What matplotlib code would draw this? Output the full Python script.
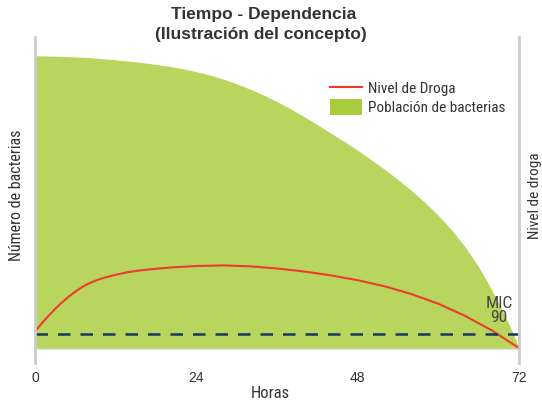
import matplotlib
matplotlib.use("Agg")
import matplotlib.pyplot as plt
from matplotlib import font_manager
from matplotlib.lines import Line2D
from matplotlib.patches import Patch

# datos (horas / escala relativa 0-100)
horas_bact = [0, 4, 8, 12, 16, 20, 22, 24, 26, 28, 30, 32, 34, 36, 38, 40, 42, 44, 46, 48, 50, 52,
              54, 56, 58, 60, 62, 64, 66, 67, 68, 69, 70, 71, 71.8, 72]
bacterias = [94.0, 93.8, 93.4, 92.7, 91.8, 90.6, 89.8, 88.9, 87.8, 86.5, 85.0, 83.3, 81.4, 79.3,
             77.0, 74.5, 71.9, 69.2, 66.5, 63.7, 60.7, 57.6, 54.3, 50.8, 47.0, 42.8, 38.1, 32.7,
             26.3, 22.6, 18.7, 14.6, 10.3, 5.6, 1.4, 0.0]

horas_droga = [0, 1, 2, 3, 4, 5, 6, 7, 8, 9, 10, 12, 14, 16, 20, 24, 28, 32, 36, 40, 44, 48,
               52, 56, 60, 64, 68, 72]
droga = [5.6, 8.2, 10.6, 12.85, 14.9, 16.75, 18.4, 19.85, 21.0, 21.9, 22.65, 23.8, 24.7, 25.3,
         26.1, 26.6, 26.8, 26.5, 25.8, 24.85, 23.6, 22.05, 20.1, 17.6, 14.5, 10.6, 5.9, 0.3]

mic90 = 4.8
xticks = [0, 24, 48, 72]


def pick_font(names):
    for n in names:
        try:
            font_manager.findfont(n, fallback_to_default=False)
            return n
        except Exception:
            pass
    return "DejaVu Sans"


narrow = pick_font(["Liberation Sans Narrow", "DejaVu Sans Condensed", "Roboto Condensed", "Liberation Sans"])
regular = pick_font(["Liberation Sans", "DejaVu Sans"])
gris = "#333333"

fig = plt.figure(figsize=(5.42, 4.03), dpi=100)
ax = fig.add_axes([35 / 542, 1 - 349 / 403, 484 / 542, 312 / 403])

ax.fill_between(horas_bact, 0, bacterias, color="#B8D65E", lw=0, zorder=1)
ax.plot(horas_droga, droga, color="#EE3B2E", lw=1.5, zorder=3, solid_capstyle="round")
ax.plot([0, 72], [mic90, mic90], color="#17375E", lw=1.8, dashes=(5, 4), zorder=3)

ax.set_xlim(0, 72)
ax.set_ylim(0, 100)
for s in ax.spines.values():
    s.set_visible(False)

# lineas grises de los ejes
ax.axhline(0, color="#D0D0D0", lw=1.8, zorder=2)
ax.axvline(0, ymin=-0.045, ymax=1, color="#CCCCCC", lw=2, clip_on=False, zorder=4)
ax.axvline(72, ymin=-0.045, ymax=1, color="#CCCCCC", lw=2, clip_on=False, zorder=4)

ax.set_xticks(xticks)
ax.set_xticklabels([str(t) for t in xticks], fontfamily=regular, fontsize=10, color=gris)
ax.tick_params(axis="x", length=0, pad=16)
ax.set_yticks([])

ax.text(69.0, 12.4, "MIC\n90", ha="center", va="center", fontfamily=narrow, fontsize=12.5,
        color="#444444", linespacing=0.95, zorder=5)

fig.text(264 / 542, 1 - 14 / 403, "Tiempo - Dependencia", ha="center", va="center",
         fontfamily=regular, fontweight="bold", fontsize=12.5, color=gris)
fig.text(261 / 542, 1 - 35 / 403, "(Ilustración del concepto)", ha="center", va="center",
         fontfamily=regular, fontweight="bold", fontsize=12.5, color=gris)
fig.text(270 / 542, 1 - 393 / 403, "Horas", ha="center", va="center",
         fontfamily=narrow, fontsize=12, color=gris)
fig.text(17 / 542, 1 - 195 / 403, "Número de bacterias", ha="center", va="center", rotation=90,
         fontfamily=narrow, fontsize=11.5, color=gris)
fig.text(535 / 542, 1 - 196 / 403, "Nivel de droga", ha="center", va="center", rotation=90,
         fontfamily=narrow, fontsize=11, color=gris)

handles = [Line2D([], [], color="#EE3B2E", lw=1.5),
           Patch(facecolor="#A6CC3C", edgecolor="none")]
leg = fig.legend(handles, ["Nivel de Droga", "Población de bacterias"], loc="upper left",
                 bbox_to_anchor=(330 / 542, 1 - 80 / 403), frameon=False, borderpad=0,
                 borderaxespad=0, handlelength=2.1, handleheight=1.25, handletextpad=0.4,
                 labelspacing=0.2, prop={"family": narrow, "size": 11})
for t in leg.get_texts():
    t.set_color(gris)

fig.savefig("out.png", dpi=100)
